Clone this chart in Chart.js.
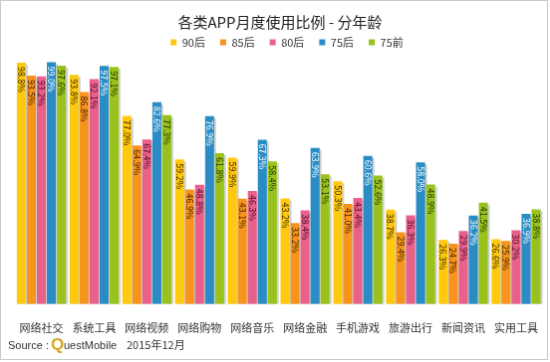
<!DOCTYPE html>
<html>
<head>
<meta charset="utf-8">
<script src="https://cdn.jsdelivr.net/npm/chart.js@4/dist/chart.umd.min.js"></script>
<style>
  html, body { margin: 0; padding: 0; background: #fff; }
  #chart { display: block; border: 1px solid #c9c9c9; }
</style>
</head>
<body>
<canvas id="chart" width="548" height="360"></canvas>
<script>
// categorias y series
var categorias = ["网络社交", "系统工具", "网络视频", "网络购物", "网络音乐", "网络金融", "手机游戏", "旅游出行", "新闻资讯", "实用工具"];
var series = ["90后", "85后", "80后", "75后", "75前"];
var v90h = [98.8, 93.8, 77.0, 59.2, 59.9, 43.2, 50.3, 38.7, 26.3, 26.6];
var v85h = [93.5, 86.8, 64.9, 46.9, 43.1, 33.2, 41.0, 29.4, 24.7, 25.9];
var v80h = [93.2, 92.1, 67.4, 48.8, 46.3, 38.4, 43.4, 36.3, 29.9, 30.2];
var v75h = [99.0, 97.5, 82.6, 76.9, 67.3, 63.9, 60.6, 58.0, 36.2, 36.9];
var v75q = [97.6, 97.1, 77.3, 61.8, 58.4, 53.1, 52.6, 48.9, 41.5, 38.8];

var colores = ["#ffc90e", "#f7941d", "#e9608b", "#2a8cc4", "#99c31c"];
var coloresTexto = ["#3a2a00", "#3a1e00", "#4a0a22", "#ffffff", "#1e3300"];
var valores = [v90h, v85h, v80h, v75h, v75q];

var fuente = '"Noto Sans CJK SC", "Liberation Sans", sans-serif';

var datasets = [];
for (var i = 0; i < series.length; i++) {
	datasets.push({
		label: series[i],
		data: valores[i],
		backgroundColor: colores[i],
		borderWidth: 0,
		barPercentage: 0.9,
		categoryPercentage: 0.95
	});
}

// mueve un poco la leyenda (solo al dibujar)
var moverLeyenda = {
	id: 'moverLeyenda',
	afterLayout: function(chart) {
		var lg = chart.legend;
		lg.left += 7; lg.right += 7;
		lg.top -= 2; lg.bottom -= 2;
	}
};

// sombra a la derecha de cada barra
var sombra = {
	id: 'sombra',
	beforeDatasetsDraw: function(chart) {
		var ctx = chart.ctx;
		ctx.save();
		ctx.fillStyle = 'rgba(0,0,0,0.18)';
		chart.data.datasets.forEach(function(ds, i) {
			chart.getDatasetMeta(i).data.forEach(function(bar) {
				var w = bar.width;
				ctx.fillRect(bar.x - w / 2 + 2, bar.y + 2, w, bar.base - bar.y - 2);
			});
		});
		ctx.restore();
	}
};

// etiquetas de valor dentro de las barras (giradas)
var etiquetas = {
	id: 'etiquetas',
	afterDatasetsDraw: function(chart) {
		var ctx = chart.ctx;
		ctx.save();
		ctx.font = '9px ' + fuente;
		ctx.textAlign = 'left';
		ctx.textBaseline = 'middle';
		chart.data.datasets.forEach(function(ds, i) {
			chart.getDatasetMeta(i).data.forEach(function(bar, j) {
				ctx.save();
				ctx.translate(bar.x, bar.y + 4);
				ctx.rotate(Math.PI / 2);
				ctx.fillStyle = coloresTexto[i];
				ctx.fillText(ds.data[j].toFixed(1) + '%', 0, 0);
				ctx.restore();
			});
		});
		ctx.restore();
	}
};

// fuente al pie
var pie = {
	id: 'pie',
	afterDraw: function(chart) {
		var ctx = chart.ctx;
		ctx.save();
		ctx.textBaseline = 'alphabetic';
		ctx.fillStyle = '#333';
		ctx.font = '11px "Liberation Sans", Arial, sans-serif';
		ctx.fillText('Source :', 7, 350);
		ctx.fillStyle = '#d6a81c';
		ctx.font = 'bold 17px "Liberation Sans", Arial, sans-serif';
		ctx.fillText('Q', 50, 351);
		ctx.fillStyle = '#333';
		ctx.font = '11px "Liberation Sans", Arial, sans-serif';
		ctx.fillText('uestMobile', 63, 350);
		ctx.font = '11px ' + fuente;
		ctx.fillText('2015年12月', 126, 350);
		ctx.restore();
	}
};

var datos = {
	type: 'bar',
	data: {
		labels: categorias,
		datasets: datasets
	},
	options: {
		responsive: false,
		animation: false,
		layout: { padding: { left: 14, right: 2, top: 0, bottom: 16 } },
		plugins: {
			title: {
				display: true,
				text: '各类APP月度使用比例 - 分年龄',
				color: '#222',
				font: { family: fuente, size: 15, weight: 'normal' },
				padding: { top: 12, bottom: -7 }
			},
			legend: {
				display: true,
				labels: {
					boxWidth: 6,
					boxHeight: 6,
					padding: 15,
					color: '#333',
					font: { family: fuente, size: 11 }
				}
			},
			tooltip: { enabled: false }
		},
		scales: {
			x: {
				grid: { display: false },
				border: { display: false },
				ticks: {
					color: '#333',
					font: { family: fuente, size: 11 },
					padding: 9,
					maxRotation: 0,
					autoSkip: false
				}
			},
			y: {
				display: false,
				min: 0,
				max: 100
			}
		}
	},
	plugins: [moverLeyenda, sombra, etiquetas, pie]
};

var canvas = document.getElementById('chart').getContext('2d');
window.barras = new Chart(canvas, datos);
</script>
</body>
</html>
